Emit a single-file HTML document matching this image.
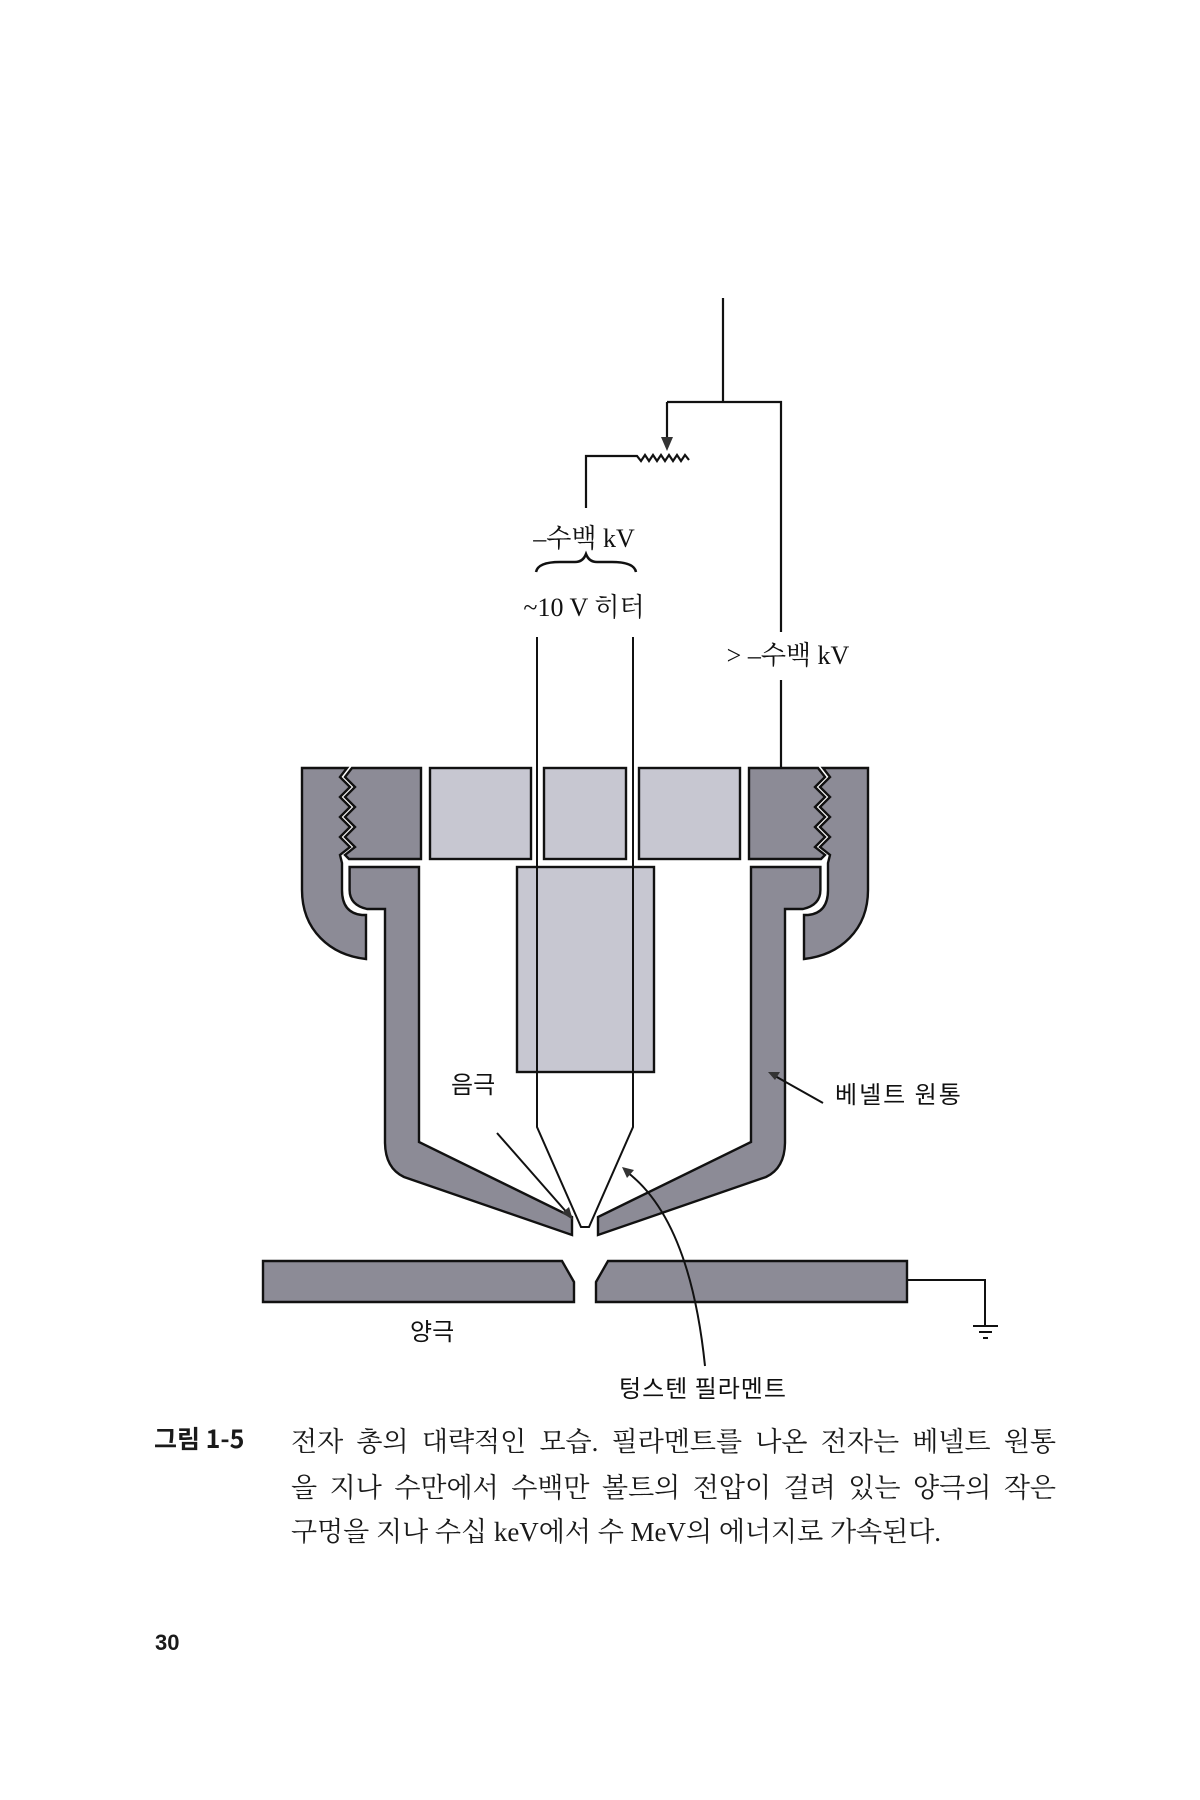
<!DOCTYPE html>
<html><head><meta charset="utf-8"><style>
html,body{margin:0;padding:0;background:#fff;}
body{width:1200px;height:1800px;position:relative;overflow:hidden;}
svg{position:absolute;left:0;top:0;}
.cap{position:absolute;font-family:"Liberation Serif","Noto Serif CJK SC","Noto Sans CJK KR",serif;font-size:27px;color:#1a1a1a;}
.ln{position:absolute;left:291px;width:765px;text-align:justify;text-align-last:justify;white-space:nowrap;}
</style></head><body>
<svg width="1200" height="1800" viewBox="0 0 1200 1800" xmlns="http://www.w3.org/2000/svg">
<g stroke="#111" stroke-width="2.2" fill="none">
<line x1="723" y1="298" x2="723" y2="402"/>
<polyline points="667,402 781,402 781,632"/>
<line x1="781" y1="680" x2="781" y2="768"/>
<line x1="667" y1="402" x2="667" y2="440"/>
<polyline points="586,508 586,456 637,456 641,461 645,455 649,461 653,455 657,461 661,455 665,461 669,455 673,461 677,455 681,461 685,455 689,460"/>
</g>
<polygon points="661,437 673,437 667,451" fill="#333"/>
<path d="M536,572 Q538,562 560,562 L575,562 Q583,562 586,554 Q589,562 597,562 L612,562 Q634,562 636,572" stroke="#111" stroke-width="2.5" fill="none"/>
<g stroke="#111" stroke-width="2.4">
<rect x="430" y="768" width="101" height="91" fill="#c7c7d1"/>
<rect x="544" y="768" width="82" height="91" fill="#c7c7d1"/>
<rect x="639" y="768" width="101" height="91" fill="#c7c7d1"/>
<rect x="517" y="867" width="137" height="205" fill="#c7c7d1"/>
<g>
<path d="M302,768 L347,768 L340,777 L350,787 L340,797 L350,807 L340,817 L350,827 L340,837 L350,847 L340,855 L342,863 L342,890 Q342,913 362,915 L366,915 L366,959 C330,955 302,930 302,890 Z" fill="#8c8b96"/>
<path d="M352,768 L421,768 L421,859 L349,859 L345,855 L355,847 L345,837 L355,827 L345,817 L355,807 L345,797 L355,787 L345,777 Z" fill="#8c8b96"/>
<path d="M349.6,867 L419,867 L419,1142 L572,1217 L572,1235 L404,1177 Q385,1168 385,1142 L385,909 L367,909 Q349.6,905 349.6,890 Z" fill="#8c8b96"/>
</g>
<g transform="translate(1170,0) scale(-1,1)">
<path d="M302,768 L347,768 L340,777 L350,787 L340,797 L350,807 L340,817 L350,827 L340,837 L350,847 L340,855 L342,863 L342,890 Q342,913 362,915 L366,915 L366,959 C330,955 302,930 302,890 Z" fill="#8c8b96"/>
<path d="M352,768 L421,768 L421,859 L349,859 L345,855 L355,847 L345,837 L355,827 L345,817 L355,807 L345,797 L355,787 L345,777 Z" fill="#8c8b96"/>
<path d="M349.6,867 L419,867 L419,1142 L572,1217 L572,1235 L404,1177 Q385,1168 385,1142 L385,909 L367,909 Q349.6,905 349.6,890 Z" fill="#8c8b96"/>
</g>
<path d="M263,1261 L562,1261 L574,1282 L574,1302 L263,1302 Z" fill="#8c8b96"/>
<path d="M907,1261 L608,1261 L596,1282 L596,1302 L907,1302 Z" fill="#8c8b96"/>
</g>
<g stroke="#111" stroke-width="2" fill="none">
<polyline points="537,637 537,1127 581,1227 589,1227 633,1127 633,637"/>
<polyline points="907,1280 985,1280 985,1326"/>
<line x1="973" y1="1326" x2="998" y2="1326"/>
<line x1="979" y1="1332" x2="992" y2="1332"/>
<line x1="983" y1="1338" x2="988" y2="1338"/>
<line x1="497" y1="1133" x2="569" y2="1215"/>
<line x1="823" y1="1103" x2="775" y2="1076"/>
<path d="M705,1366 Q690,1220 627,1172"/>
</g>
<polygon points="573,1220 562,1213 569,1207" fill="#333"/>
<polygon points="768,1072 780,1072 775,1080" fill="#333"/>
<polygon points="622,1167 634,1170 627,1178" fill="#333"/>
<g font-family="Liberation Serif,'Noto Serif CJK SC',serif" font-size="26" fill="#111" text-anchor="middle">
<text x="584" y="547">–수백 kV</text>
<text x="584" y="616">~10 V 히터</text>
<text x="788" y="664">&gt; –수백 kV</text>
</g>
<g font-family="'Noto Sans CJK KR','Liberation Sans',sans-serif" font-size="24" fill="#111">
<text x="451" y="1093">음극</text>
<text x="835" y="1103" letter-spacing="2">베넬트 원통</text>
<text x="410" y="1340">양극</text>
<text x="703" y="1397" text-anchor="middle" letter-spacing="1">텅스텐 필라멘트</text>
</g>
</svg>
<div class="cap" style="left:154px;top:1420px;font-family:'Noto Sans CJK KR',sans-serif;font-weight:bold;font-size:25px;">그림 1-5</div>
<div class="cap ln" style="top:1420px;">전자 총의 대략적인 모습. 필라멘트를 나온 전자는 베넬트 원통</div>
<div class="cap ln" style="top:1466px;">을 지나 수만에서 수백만 볼트의 전압이 걸려 있는 양극의 작은</div>
<div class="cap" style="left:291px;top:1510px;white-space:nowrap;">구멍을 지나 수십 keV에서 수 MeV의 에너지로 가속된다.</div>
<div class="cap" style="left:155px;top:1630px;font-family:'Liberation Sans',sans-serif;font-weight:bold;font-size:22px;">30</div>
</body></html>
